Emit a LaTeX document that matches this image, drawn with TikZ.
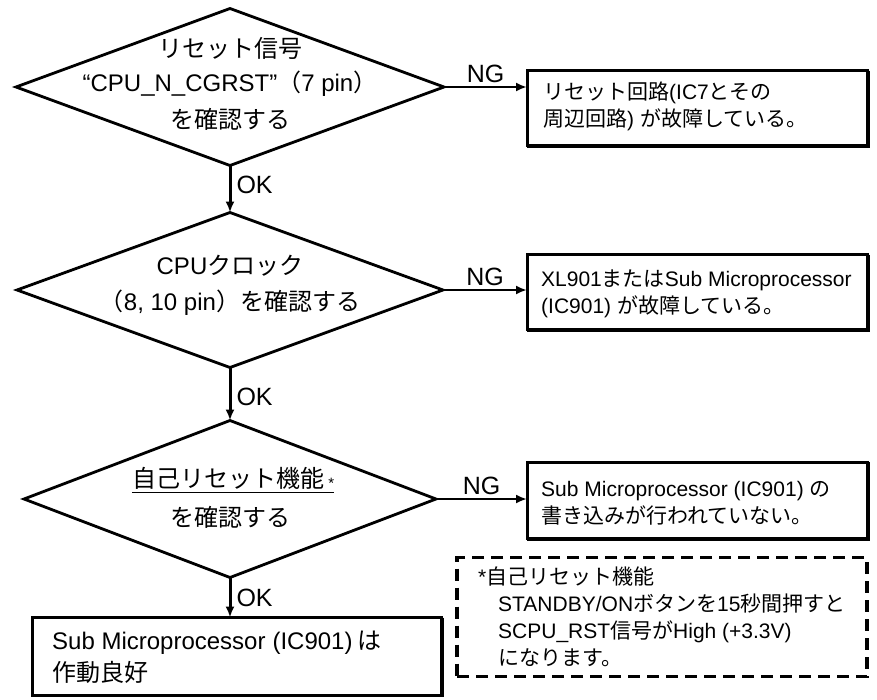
\documentclass[tikz,border=0pt]{standalone}
\usepackage{fontspec}
\setmainfont{Liberation Sans}
\newfontfamily\cjk{Noto Sans CJK JP}
\usetikzlibrary{shapes.geometric,arrows.meta}
\newcommand\J[1]{{\cjk #1}}
\begin{document}
\begin{tikzpicture}[x=1pt,y=-1pt,
  dia/.style={draw, line width=2.8pt, shape=diamond, inner sep=0pt, outer sep=0pt},
  box/.style={draw, line width=3pt, rectangle, inner sep=0pt, outer sep=0pt},
  shade/.style={line width=2pt},
  dashbox/.style={draw, line width=3.6pt, dash pattern=on 12pt off 7pt, rectangle, inner sep=0pt},
  dtext/.style={inner sep=0pt, font=\fontsize{24}{28}\selectfont},
  btext/.style={inner sep=0pt, anchor=west, align=left, font=\fontsize{21}{27}\selectfont},
  lab/.style={inner sep=2pt, font=\fontsize{25}{27}\selectfont},
  okarrow/.style={line width=3pt, -{Latex[length=11pt,width=9pt]}},
  ngarrow/.style={line width=2.5pt, -{Latex[length=11pt,width=9pt]}},
]
\useasboundingbox (0,0) rectangle (877,699);

% decisions
\node[dia, minimum width=428pt, minimum height=157pt] (d1) at (230,87) {};
\node[dtext] (t1a) at (230,48) {\J{リセット信号}};
\node[dtext] (t1b) at (230,84) {“CPU\_N\_CGRST”\J{（}7 pin\J{）}};
\node[dtext] (t1c) at (230,119) {\J{を確認する}};

\node[dia, minimum width=426pt, minimum height=155pt] (d2) at (230,290) {};
\node[dtext] (t2a) at (230,266) {CPU\J{クロック}};
\node[dtext] (t2b) at (230,303) {\J{（}8, 10 pin\J{）を確認する}};

\node[dia, minimum width=412pt, minimum height=157pt] (d3) at (230,499) {};
\node[dtext] (t3a) at (228,478) {\J{自己リセット機能}};
\node[inner sep=0pt, anchor=west, font=\fontsize{15}{15}\selectfont] (ast) at ([xshift=4pt,yshift=-5pt]t3a.east) {*};
\draw[line width=1.5pt] ([yshift=-3pt]t3a.south west) -- ([yshift=-3pt]t3a.south -| ast.east);
\node[dtext] (t3b) at (230,517) {\J{を確認する}};

% end box
\node[box, minimum width=409pt, minimum height=78pt] (fin) at (237,656.5) {};
\draw[shade] ([xshift=1.5pt]fin.north east) -- ([xshift=1.5pt,yshift=-1pt]fin.south east);
\node[btext, font=\fontsize{24}{32}\selectfont] (tf) at (52,657) {Sub Microprocessor\hspace{7pt}(IC901)\hspace{5pt}\J{は}\\\J{作動良好}};

% result boxes
\node[box, minimum width=340pt, minimum height=75pt] (b1) at (697,108) {};
\draw[shade] ([xshift=1.5pt]b1.north east) -- ([xshift=1.5pt,yshift=-1.5pt]b1.south east) -- ([yshift=-1.5pt]b1.south west);
\node[btext] (tb1) at (543,106) {\J{リセット回路}(IC7\J{とその}\\\J{周辺回路}) \J{が故障している。}};
\node[box, minimum width=340pt, minimum height=75pt] (b2) at (697,292) {};
\draw[shade] ([xshift=1.5pt]b2.north east) -- ([xshift=1.5pt,yshift=-1.5pt]b2.south east) -- ([yshift=-1.5pt]b2.south west);
\node[btext] (tb2) at (541,294) {XL901\J{または}Sub Microprocessor\\(IC901) \J{が故障している。}};
\node[box, minimum width=340pt, minimum height=76pt] (b3) at (697,500) {};
\draw[shade] ([xshift=1.5pt]b3.north east) -- ([xshift=1.5pt,yshift=-1.5pt]b3.south east) -- ([yshift=-1.5pt]b3.south west);
\node[btext] (tb3) at (541,503) {Sub Microprocessor (IC901) \J{の}\\\J{書き込みが行われていない。}};

% note
\node[dashbox, minimum width=410pt, minimum height=119pt] (note) at (662,617) {};
\node[btext] (tn) at (478,617) {*\J{自己リセット機能}\\\hspace*{20pt}STANDBY/ON\J{ボタンを}15\J{秒間押すと}\\\hspace*{20pt}SCPU\_RST\J{信号が}High (+3.3V)\\\hspace*{20pt}\J{になります。}};

% connectors
\draw[okarrow] (d1.south) -- (d2.north) node[lab, pos=0.42, right=3pt] {OK};
\draw[okarrow] (d2.south) -- (d3.north) node[lab, pos=0.55, right=3pt] {OK};
\draw[okarrow] (d3.south) -- (d3.south |- fin.north) node[lab, pos=0.5, right=3pt] {OK};
\draw[ngarrow] (d1.east) -- (d1.east -| b1.west) node[lab, midway, above=1pt] {NG};
\draw[ngarrow] (d2.east) -- (d2.east -| b2.west) node[lab, midway, above=1pt] {NG};
\draw[ngarrow] (d3.east) -- (d3.east -| b3.west) node[lab, midway, above=1pt] {NG};
\end{tikzpicture}
\end{document}
